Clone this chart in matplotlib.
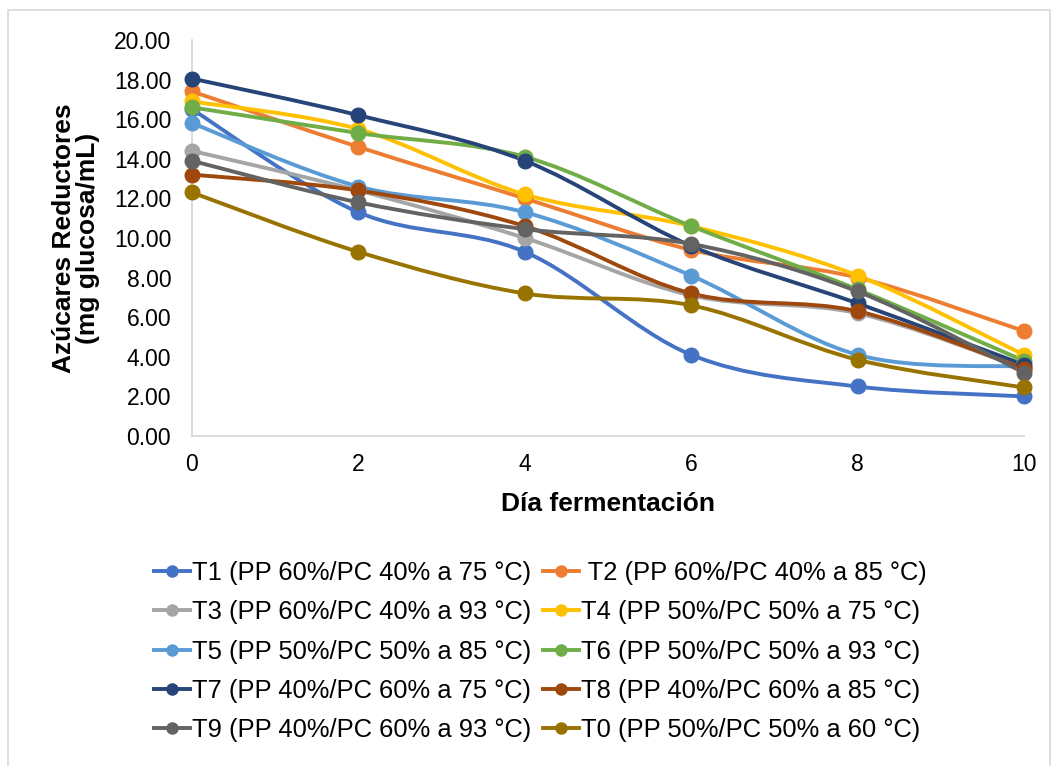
import numpy as np
import matplotlib
matplotlib.use("Agg")
import matplotlib.pyplot as plt
from matplotlib.path import Path
from matplotlib.patches import PathPatch, Rectangle
from matplotlib.lines import Line2D

plt.rcParams['font.family'] = ['Liberation Sans', 'DejaVu Sans']

# Días de fermentación
dias = [0, 2, 4, 6, 8, 10]

# Azúcares reductores por tratamiento (mg glucosa/mL)
t1 = [16.5, 11.3, 9.3, 4.1, 2.5, 2.0]
t2 = [17.4, 14.6, 12.0, 9.4, 8.0, 5.3]
t3 = [14.4, 12.4, 10.0, 7.1, 6.2, 3.4]
t4 = [16.9, 15.5, 12.2, 10.6, 8.1, 4.1]
t5 = [15.8, 12.6, 11.3, 8.1, 4.1, 3.5]
t6 = [16.6, 15.3, 14.1, 10.6, 7.4, 3.8]
t7 = [18.05, 16.2, 13.9, 9.6, 6.7, 3.6]
t8 = [13.2, 12.4, 10.6, 7.2, 6.3, 3.4]
t9 = [13.9, 11.8, 10.45, 9.7, 7.3, 3.2]
t0 = [12.3, 9.3, 7.2, 6.6, 3.85, 2.45]

etiquetas = [
    "T1 (PP 60%/PC 40% a 75 °C)",
    " T2 (PP 60%/PC 40% a 85 °C)",
    "T3 (PP 60%/PC 40% a 93 °C)",
    "T4 (PP 50%/PC 50% a 75 °C)",
    "T5 (PP 50%/PC 50% a 85 °C)",
    "T6 (PP 50%/PC 50% a 93 °C)",
    "T7 (PP 40%/PC 60% a 75 °C)",
    "T8 (PP 40%/PC 60% a 85 °C)",
    "T9 (PP 40%/PC 60% a 93 °C)",
    "T0 (PP 50%/PC 50% a 60 °C)",
]
series = [t1, t2, t3, t4, t5, t6, t7, t8, t9, t0]
colores = ["#4472C4", "#ED7D31", "#A5A5A5", "#FFC000", "#5B9BD5",
           "#70AD47", "#264478", "#9E480E", "#636363", "#997300"]


def curva_suave(x, y):
    # Bezier tipo Excel (linea suavizada)
    x = np.asarray(x, float)
    y = np.asarray(y, float)
    n = len(x)
    verts = [(x[0], y[0])]
    codes = [Path.MOVETO]
    for i in range(n - 1):
        i0 = max(i - 1, 0)
        i3 = min(i + 2, n - 1)
        c1 = (x[i] + (x[i + 1] - x[i0]) / 6, y[i] + (y[i + 1] - y[i0]) / 6)
        c2 = (x[i + 1] - (x[i3] - x[i]) / 6, y[i + 1] - (y[i3] - y[i]) / 6)
        verts += [c1, c2, (x[i + 1], y[i + 1])]
        codes += [Path.CURVE4] * 3
    return Path(verts, codes)


fig = plt.figure(figsize=(10.58, 7.66), dpi=100)
ax = fig.add_axes([192 / 1058, 1 - 436 / 766, 832 / 1058, 396 / 766])

handles = []
for vals, col, lab in zip(series, colores, etiquetas):
    ax.add_patch(PathPatch(curva_suave(dias, vals), facecolor="none",
                           edgecolor=col, lw=2.8, capstyle="round",
                           joinstyle="round", clip_on=False))
    ax.plot(dias, vals, linestyle="none", marker="o", ms=10.5,
            color=col, clip_on=False, zorder=3)
    handles.append(Line2D([], [], color=col, lw=2.8, marker="o", ms=8))

ax.set_xlim(0, 10)
ax.set_ylim(0, 20)
ax.set_xticks(dias)
ax.set_yticks(np.arange(0, 21, 2))
ax.set_yticklabels([f"{v:.2f}" for v in np.arange(0, 21, 2)])
ax.tick_params(length=0, labelsize=16.5, colors="#000000")
ax.tick_params(axis="y", pad=15)
ax.tick_params(axis="x", pad=12)
for s in ["top", "right"]:
    ax.spines[s].set_visible(False)
for s in ["left", "bottom"]:
    ax.spines[s].set_color("#D9D9D9")
    ax.spines[s].set_linewidth(1.3)

ax.set_xlabel("Día fermentación", fontsize=19, fontweight="bold", labelpad=12)
ax.set_ylabel("Azúcares Reductores\n(mg glucosa/mL)", fontsize=19,
              fontweight="bold", labelpad=10, linespacing=1.0)

# orden de filas como en Excel: T1 T2 / T3 T4 ...
orden = [0, 2, 4, 6, 8, 1, 3, 5, 7, 9]
fig.legend([handles[i] for i in orden], [etiquetas[i] for i in orden],
           ncol=2, loc="upper left", bbox_to_anchor=(154 / 1058, 1 - 561 / 766),
           frameon=False, fontsize=18.4, handlelength=1.4, handletextpad=0.1,
           columnspacing=0.45, labelspacing=0.6, borderpad=0, borderaxespad=0)

fig.patches.append(Rectangle((8 / 1058, -0.05), 1042 / 1058, 1.05 - 10 / 766,
                             transform=fig.transFigure, fill=False,
                             edgecolor="#D9D9D9", lw=1.2))

fig.savefig("out.png", dpi=100)
